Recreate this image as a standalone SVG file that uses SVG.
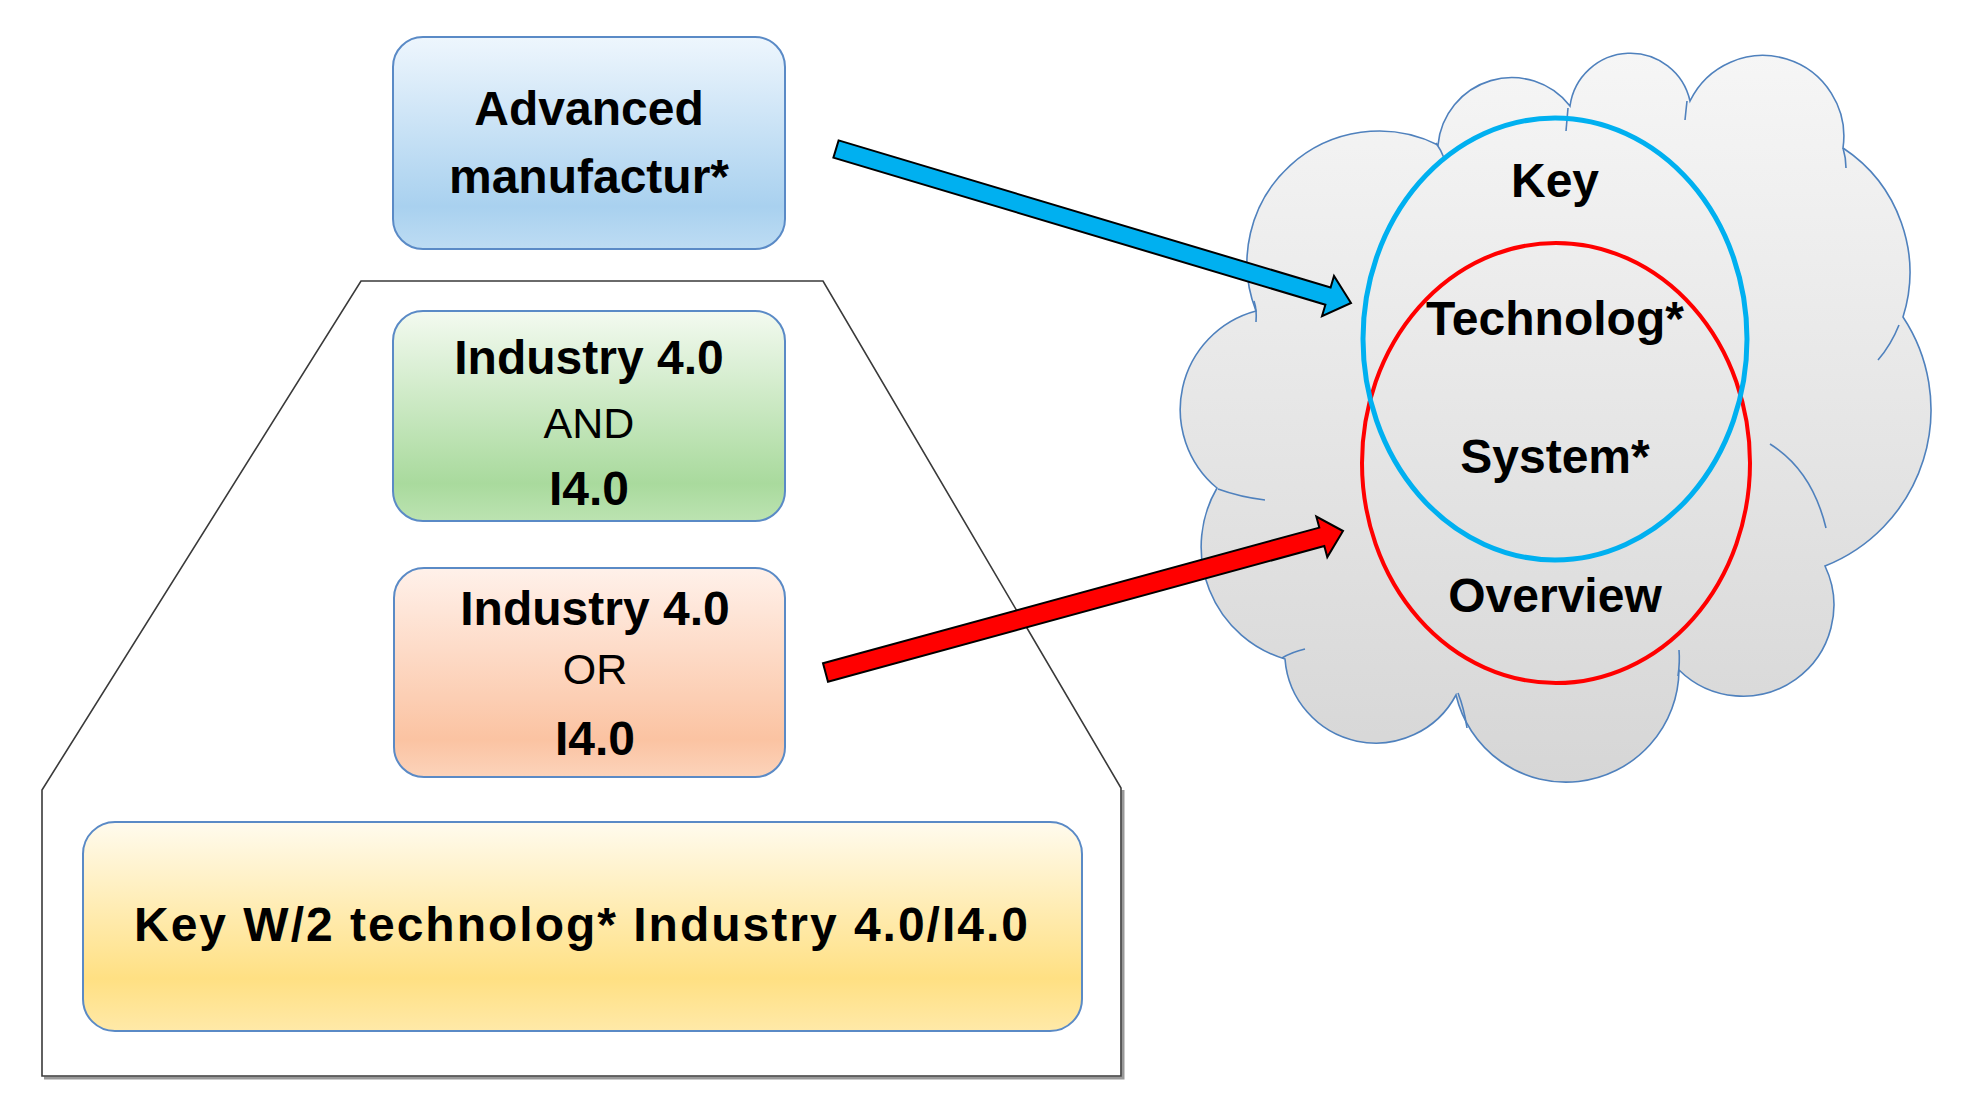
<svg xmlns="http://www.w3.org/2000/svg" width="1964" height="1110" viewBox="0 0 1964 1110">
  <defs>
    <linearGradient id="gBlue" x1="0" y1="0" x2="0" y2="1">
      <stop offset="0" stop-color="#eef6fd"/>
      <stop offset="0.8" stop-color="#a9d1ef"/>
      <stop offset="1" stop-color="#bddcf3"/>
    </linearGradient>
    <linearGradient id="gGreen" x1="0" y1="0" x2="0" y2="1">
      <stop offset="0" stop-color="#f3faf0"/>
      <stop offset="0.82" stop-color="#a9da9d"/>
      <stop offset="1" stop-color="#bce3b1"/>
    </linearGradient>
    <linearGradient id="gOrange" x1="0" y1="0" x2="0" y2="1">
      <stop offset="0" stop-color="#fff1ea"/>
      <stop offset="0.82" stop-color="#fbc3a2"/>
      <stop offset="1" stop-color="#fcd3ba"/>
    </linearGradient>
    <linearGradient id="gYellow" x1="0" y1="0" x2="0" y2="1">
      <stop offset="0" stop-color="#fffbee"/>
      <stop offset="0.75" stop-color="#ffe083"/>
      <stop offset="1" stop-color="#ffe9a8"/>
    </linearGradient>
    <linearGradient id="gCloud" x1="0" y1="0" x2="0" y2="1">
      <stop offset="0" stop-color="#f6f6f6"/>
      <stop offset="1" stop-color="#d6d6d6"/>
    </linearGradient>
    <style>
      .box { stroke: #5a8ac6; stroke-width: 2; }
      .b { font-family: "Liberation Sans", Arial, sans-serif; font-weight: bold; font-size: 48px; fill: #000; text-anchor: middle; }
      .r { font-family: "Liberation Sans", Arial, sans-serif; font-weight: normal; font-size: 43px; fill: #000; text-anchor: middle; }
      .cloud { stroke: #4f81bd; stroke-width: 1.6; }
      .tail { fill: none; stroke: #4f81bd; stroke-width: 1.6; }
      .arrow { stroke: #000; stroke-width: 2; stroke-linejoin: miter; }
    </style>
  </defs>
  <rect width="1964" height="1110" fill="#ffffff"/>

  <g id="frame">
    <polyline points="1123,790 1123,1078 44,1078" fill="none" stroke="#999999" stroke-width="3"/>
    <polygon points="361,281 823,281 1121,788 1121,1076 42,1076 42,790" fill="none" stroke="#3a3a3a" stroke-width="1.6"/>
  </g>

  <g id="node-advanced">
    <rect class="box" x="393" y="37" width="392" height="212" rx="30" fill="url(#gBlue)"/>
    <text class="b" x="589" y="125">Advanced</text>
    <text class="b" x="589" y="193">manufactur*</text>
  </g>

  <g id="node-and">
    <rect class="box" x="393" y="311" width="392" height="210" rx="30" fill="url(#gGreen)"/>
    <text class="b" x="589" y="374">Industry 4.0</text>
    <text class="r" x="589" y="438">AND</text>
    <text class="b" x="589" y="505">I4.0</text>
  </g>

  <g id="node-or">
    <rect class="box" x="394" y="568" width="391" height="209" rx="30" fill="url(#gOrange)"/>
    <text class="b" x="595" y="625">Industry 4.0</text>
    <text class="r" x="595" y="684">OR</text>
    <text class="b" x="595" y="755">I4.0</text>
  </g>

  <g id="node-key">
    <rect class="box" x="83" y="822" width="999" height="209" rx="32" fill="url(#gYellow)"/>
    <text class="b" x="581" y="941" textLength="894" lengthAdjust="spacing">Key W/2 technolog* Industry 4.0/I4.0</text>
  </g>

  <g id="node-cloud">
    <path class="cloud" fill="url(#gCloud)" d="M 1256 311 A 132 132 0 0 1 1438 145 A 74 74 0 0 1 1570 106 A 61 61 0 0 1 1690 101 A 81 81 0 0 1 1843 148 A 149 149 0 0 1 1903 317 A 168 168 0 0 1 1825 566 A 91 91 0 0 1 1679 670 A 113 113 0 0 1 1456 695 A 91 91 0 0 1 1285 659 A 117 117 0 0 1 1217 488 A 102 102 0 0 1 1256 311 Z"/>
    <path class="tail" d="M1254 301 Q1257 310 1256 322"/>
    <path class="tail" d="M1436 143 Q1441 150 1444 158"/>
    <path class="tail" d="M1568 108 Q1567 119 1566 131"/>
    <path class="tail" d="M1687 101 Q1686 110 1685 120"/>
    <path class="tail" d="M1843 148 Q1846 158 1846 168"/>
    <path class="tail" d="M1899 325 Q1891 345 1878 360"/>
    <path class="tail" d="M1770 444 Q1812 470 1826 528"/>
    <path class="tail" d="M1679 650 Q1680 662 1678 676"/>
    <path class="tail" d="M1458 693 Q1464 708 1467 728"/>
    <path class="tail" d="M1282 658 Q1292 652 1305 649"/>
    <path class="tail" d="M1218 489 Q1240 497 1265 500"/>
    <ellipse cx="1556" cy="463" rx="194" ry="220" fill="none" stroke="#ff0000" stroke-width="4"/>
    <ellipse cx="1555" cy="339" rx="192" ry="221" fill="none" stroke="#00b0f0" stroke-width="5"/>
    <text class="b" x="1555" y="197">Key</text>
    <text class="b" x="1555" y="335">Technolog*</text>
    <text class="b" x="1555" y="473">System*</text>
    <text class="b" x="1555" y="612">Overview</text>
  </g>

  <g id="connectors">
    <polygon class="arrow" fill="#00b0f0" points="838.6,140.4 1330.6,287.5 1334,276 1351,303 1322,316.2 1325.4,304.7 833.4,157.6"/>
    <polygon class="arrow" fill="#ff0000" points="823,663.3 1319.3,527.6 1316.3,516.5 1343,531 1327.3,557.1 1324.3,546 828,681.7"/>
  </g>
</svg>
